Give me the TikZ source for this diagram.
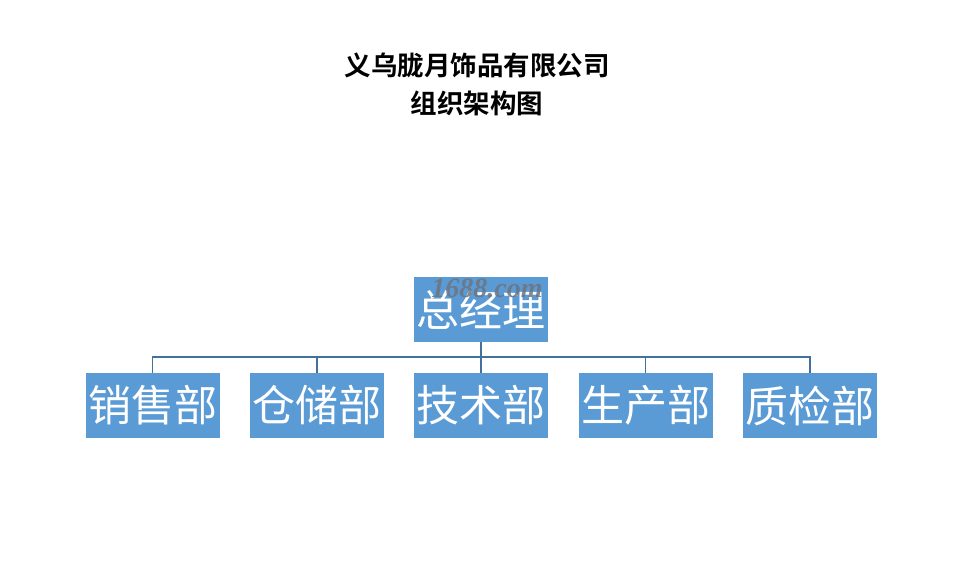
\documentclass[tikz,border=0pt]{standalone}
\usepackage{fontspec}
\newfontfamily\cjk{Noto Sans CJK SC}
\newfontfamily\cjkb{Noto Sans CJK SC}[BoldFont={* Bold},UprightFont={* Bold}]
\newfontfamily\wmfont{Liberation Serif}
\definecolor{boxfill}{HTML}{5B9BD5}
\definecolor{linecol}{HTML}{41719C}
\definecolor{wmcol}{HTML}{6E7480}
\begin{document}
\begin{tikzpicture}[x=1pt,y=-1pt,
  orgbox/.style={fill=boxfill,minimum width=134pt,minimum height=65pt,inner sep=0pt,
    text=white,font=\cjk\fontsize{43}{43}\selectfont},
  conn/.style={draw=linecol,line width=1.8pt},
  titletext/.style={font=\cjkb\fontsize{26.5}{38}\selectfont,align=center}]
\useasboundingbox (0,0) rectangle (974,571);
\fill[white] (0,0) rectangle (974,571);
\node[titletext] (title) at (477,84) {义乌胧月饰品有限公司\\组织架构图};
\node[orgbox] (gm) at (481,309.5) {总经理};
\node[orgbox] (d1) at (152.5,405.5) {销售部};
\node[orgbox] (d2) at (317,405.5) {仓储部};
\node[orgbox] (d3) at (481,405.5) {技术部};
\node[orgbox] (d4) at (645.5,405.5) {生产部};
\node[orgbox] (d5) at (810,405.5) {质检部};
\coordinate (bus) at (481,357);
\draw[conn] (gm.south) -- (bus);
\foreach \d in {d1,d2,d3,d4,d5}{
  \draw[conn] (bus) -| (\d.north);
}
\node[font=\wmfont\bfseries\itshape\fontsize{28}{28}\selectfont,text=wmcol,opacity=0.85] (wm) at (487,288) {1688.com};
\end{tikzpicture}
\end{document}
